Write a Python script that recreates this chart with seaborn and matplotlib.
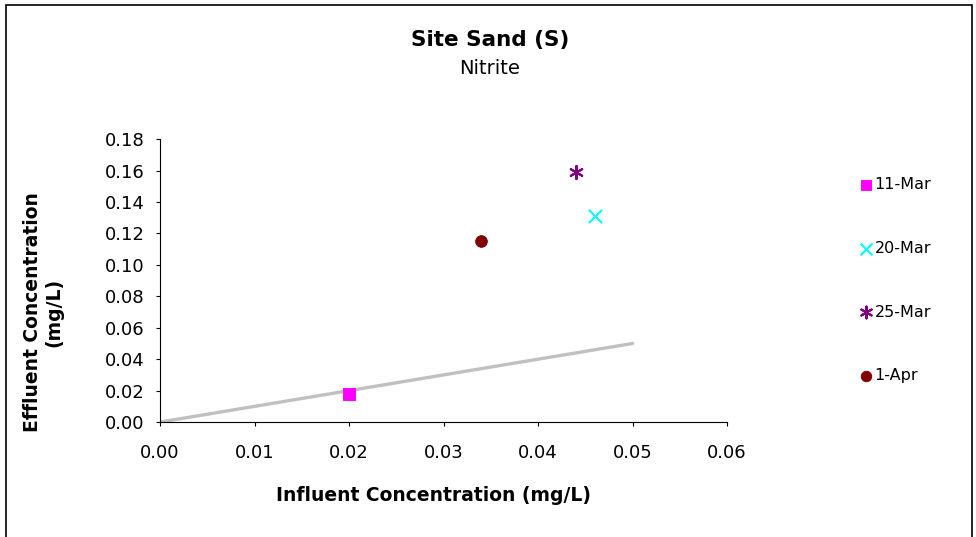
import numpy as np
import pandas as pd
import matplotlib
matplotlib.use('Agg')
import matplotlib.pyplot as plt
import seaborn as sns
from matplotlib.patches import Rectangle

# data
dates = ['11-Mar', '20-Mar', '25-Mar', '1-Apr']
influent = [0.020, 0.046, 0.044, 0.034]
effluent = [0.018, 0.131, 0.159, 0.115]
colors = ['#FF00FF', '#00FFFF', '#800080', '#800000']
markers = ['s', 'x', (6, 2, 0), 'o']

# 1:1 reference line
line_x = [0.0, 0.05]
line_y = [0.0, 0.05]

x_ticks = [0.00, 0.01, 0.02, 0.03, 0.04, 0.05, 0.06]
y_ticks = [0.00, 0.02, 0.04, 0.06, 0.08, 0.10, 0.12, 0.14, 0.16, 0.18]

sns.set_style('white')
plt.rcParams['font.family'] = ['DejaVu Sans']
plt.rcParams['text.color'] = 'black'
plt.rcParams['axes.labelcolor'] = 'black'
plt.rcParams['xtick.color'] = 'black'
plt.rcParams['ytick.color'] = 'black'

fig = plt.figure(figsize=(9.76, 5.37), dpi=100)
ax = fig.add_axes([0.164, 0.214, 0.581, 0.527])

df = pd.DataFrame({'date': dates, 'influent': influent, 'effluent': effluent})

'''
Plot data
'''
sns.lineplot(x=line_x, y=line_y, ax=ax, color='#C0C0C0', linewidth=2.4, legend=False)

for i, row in df.iterrows():
    filled = markers[i] in ('s', 'o')
    kw = dict(edgecolor=colors[i]) if filled else dict(linewidths=1.5)
    sns.scatterplot(x=[row['influent']], y=[row['effluent']], ax=ax, marker=markers[i],
                    color=colors[i], s=70 if filled else 90, label=row['date'], zorder=3, **kw)

'''
Format chart
'''
ax.set_xlim(0, 0.06)
ax.set_ylim(0, 0.18)
ax.set_xticks(x_ticks)
ax.set_yticks(y_ticks)
ax.set_xticklabels([f'{v:.2f}' for v in x_ticks], fontsize=13)
ax.set_yticklabels([f'{v:.2f}' for v in y_ticks], fontsize=13)
ax.tick_params(axis='both', direction='out', length=3, width=0.8, bottom=True, left=True)
ax.xaxis.set_tick_params(pad=13)
ax.yaxis.set_tick_params(pad=8)

for side in ['top', 'right']:
    ax.spines[side].set_visible(False)
for side in ['left', 'bottom']:
    ax.spines[side].set_color('black')
    ax.spines[side].set_linewidth(0.8)

ax.set_xlabel('Influent Concentration (mg/L)', fontsize=13.5, fontweight='bold', va='top')
ax.xaxis.set_label_coords(0.483, -0.226)
ax.set_ylabel('Effluent Concentration\n(mg/L)', fontsize=13.5, fontweight='bold', linespacing=1.15)
ax.yaxis.set_label_coords(-0.171, 0.389)

# titles
fig.text(0.502, 0.925, 'Site Sand (S)', ha='center', va='center', fontsize=15.5, fontweight='bold')
fig.text(0.502, 0.873, 'Nitrite', ha='center', va='center', fontsize=14)

# legend
ax.legend(loc='upper left', bbox_to_anchor=(0.874, 0.685), bbox_transform=fig.transFigure,
          frameon=False, fontsize=11.5, handlelength=0.6, handletextpad=0.25,
          labelspacing=3.05, borderpad=0, markerscale=0.9)

# outer border
fig.patches.append(Rectangle((6 / 976, -0.01), 966 / 976, 1 - 5 / 537 + 0.01,
                             transform=fig.transFigure, fill=False, edgecolor='black', linewidth=1.2))

fig.savefig('out.png', dpi=100)
